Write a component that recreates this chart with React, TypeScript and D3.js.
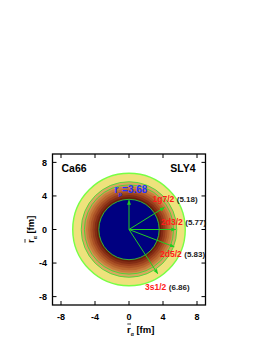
import { useRef, useEffect } from "react";
import * as d3 from "d3";

// radial bands (fm as drawn) and colours, inside -> outside
const bandEdges = [3.55, 3.8, 4.05, 4.3, 4.55, 4.8, 5.05, 5.25, 5.62, 6.62];
const bandColors = ["#000080", "#6a1c0a", "#822c14", "#983e1c", "#ab5226", "#bb6830", "#c77e3e", "#d1944e", "#d8a95e", "#eee27c"];
const greenRings = [3.55, 5.25, 5.62];

const orbitals = ["1g7/2", "2d3/2", "2d5/2", "3s1/2"];
const orbitalRms = [5.18, 5.77, 5.83, 6.86];
const arrowLen = [4.9, 5.5, 5.7, 6.2];
const arrowAngle = [32, 0, -21, -57];

const rp = 3.68;
const rpArrow = 3.45;

const ticks = [-8, -4, 0, 4, 8];

export default function App() {
  const svgRef = useRef<SVGSVGElement>(null);

  useEffect(() => {
    if (!svgRef.current) return;
    const svg = d3.select(svgRef.current);
    svg.selectAll("*").remove();

    const font = "Liberation Sans, Arial, sans-serif";
    const x = d3.scaleLinear().domain([-9, 9]).range([52.5, 205.5]);
    const y = d3.scaleLinear().domain([-9, 9]).range([305, 154]);
    const r = d3.scaleLinear().domain([0, 9]).range([0, x(9) - x(0)]);
    const cx = x(0), cy = y(0);

    const defs = svg.append("defs");
    defs.append("marker")
      .attr("id", "ah")
      .attr("viewBox", "0 0 10 10")
      .attr("refX", 9).attr("refY", 5)
      .attr("markerWidth", 5).attr("markerHeight", 5)
      .attr("orient", "auto")
      .append("path").attr("d", "M0,1 L10,5 L0,9 z").attr("fill", "#22cc22");

    // bands, drawn from outside in
    const bands = bandEdges.map((e, i) => ({ e, c: bandColors[i] })).reverse();
    svg.append("g").selectAll("circle")
      .data(bands)
      .join("circle")
      .attr("cx", cx).attr("cy", cy)
      .attr("r", (d) => r(d.e))
      .attr("fill", (d) => d.c);

    svg.append("circle")
      .attr("cx", cx).attr("cy", cy)
      .attr("r", r(bandEdges[bandEdges.length - 1]))
      .attr("fill", "none").attr("stroke", "#77ff44").attr("stroke-width", 1.4);

    svg.append("g").selectAll("circle")
      .data(greenRings)
      .join("circle")
      .attr("cx", cx).attr("cy", cy)
      .attr("r", (d) => r(d))
      .attr("fill", "none").attr("stroke", "#33dd33").attr("stroke-width", 0.8);

    // arrows
    const arrows = orbitals.map((n, i) => ({ len: arrowLen[i], ang: arrowAngle[i] }));
    arrows.push({ len: rpArrow, ang: 90 });
    svg.append("g").selectAll("line")
      .data(arrows)
      .join("line")
      .attr("x1", cx).attr("y1", cy)
      .attr("x2", (d) => cx + r(d.len) * Math.cos((d.ang * Math.PI) / 180))
      .attr("y2", (d) => cy - r(d.len) * Math.sin((d.ang * Math.PI) / 180))
      .attr("stroke", "#22cc22").attr("stroke-width", 1)
      .attr("marker-end", "url(#ah)");

    // orbital labels
    const labelPos = [
      [152.5, 202], [161, 225], [160, 256.5], [145, 289.5],
    ];
    orbitals.forEach((n, i) => {
      const t = svg.append("text")
        .attr("x", labelPos[i][0]).attr("y", labelPos[i][1])
        .style("font-family", font).style("font-size", "8.5px").style("font-weight", "bold");
      t.append("tspan").attr("fill", "#ff1a1a").text(n);
      t.append("tspan").attr("fill", "#222").attr("dx", 2.5).style("font-size", "8px")
        .text(`(${orbitalRms[i].toFixed(2)})`);
    });

    // r_p label
    const rpt = svg.append("text")
      .attr("x", 114.5).attr("y", 193)
      .attr("fill", "#2233ff")
      .style("font-family", font).style("font-size", "10px").style("font-weight", "bold");
    rpt.append("tspan").text("r");
    rpt.append("tspan").attr("dy", 3).style("font-size", "6px").text("p");
    rpt.append("tspan").attr("dy", -3).text(`=${rp.toFixed(2)}`);

    // frame
    svg.append("rect")
      .attr("x", x(-9)).attr("y", y(9))
      .attr("width", x(9) - x(-9)).attr("height", y(-9) - y(9))
      .attr("fill", "none").attr("stroke", "#000").attr("stroke-width", 1.3);

    const tl = 4;
    const tg = svg.append("g").attr("stroke", "#000").attr("stroke-width", 1);
    ticks.forEach((t) => {
      tg.append("line").attr("x1", x(t)).attr("x2", x(t)).attr("y1", y(-9)).attr("y2", y(-9) - tl);
      tg.append("line").attr("x1", x(t)).attr("x2", x(t)).attr("y1", y(9)).attr("y2", y(9) + tl);
      tg.append("line").attr("y1", y(t)).attr("y2", y(t)).attr("x1", x(-9)).attr("x2", x(-9) + tl);
      tg.append("line").attr("y1", y(t)).attr("y2", y(t)).attr("x1", x(9)).attr("x2", x(9) - tl);
    });

    svg.append("g").selectAll("text")
      .data(ticks)
      .join("text")
      .attr("x", (d) => x(d)).attr("y", 320)
      .attr("text-anchor", "middle")
      .style("font-family", font).style("font-size", "9px").style("font-weight", "bold")
      .text((d) => d);

    svg.append("g").selectAll("text")
      .data(ticks)
      .join("text")
      .attr("x", 47).attr("y", (d) => y(d) + 3.2)
      .attr("text-anchor", "end")
      .style("font-family", font).style("font-size", "9px").style("font-weight", "bold")
      .text((d) => d);

    // axis titles
    const xt = svg.append("text")
      .attr("x", 127).attr("y", 333)
      .style("font-family", font).style("font-size", "9.5px").style("font-weight", "bold");
    xt.append("tspan").text("r");
    xt.append("tspan").attr("dy", 3).style("font-size", "5px").text("α");
    xt.append("tspan").attr("dy", -3).text(" [fm]");
    svg.append("line").attr("x1", 127.3).attr("x2", 131).attr("y1", 324).attr("y2", 324)
      .attr("stroke", "#000").attr("stroke-width", 0.8);

    const yt = svg.append("text")
      .attr("transform", `translate(34,243) rotate(-90)`)
      .style("font-family", font).style("font-size", "9.5px").style("font-weight", "bold");
    yt.append("tspan").text("r");
    yt.append("tspan").attr("dy", 3).style("font-size", "5px").text("α");
    yt.append("tspan").attr("dy", -3).text(" [fm]");
    svg.append("line").attr("x1", 25).attr("x2", 25).attr("y1", 242.7).attr("y2", 239)
      .attr("stroke", "#000").attr("stroke-width", 0.8);

    svg.append("text")
      .attr("x", 61.5).attr("y", 171.5)
      .style("font-family", font).style("font-size", "10.5px").style("font-weight", "bold")
      .text("Ca66");
    svg.append("text")
      .attr("x", 195.5).attr("y", 171.5).attr("text-anchor", "end")
      .style("font-family", font).style("font-size", "10.5px").style("font-weight", "bold")
      .text("SLY4");
  }, []);

  return (
    <svg
      ref={svgRef}
      width={274}
      height={355}
      style={{ position: "absolute", left: 0, top: 0, background: "#fff" }}
    />
  );
}
